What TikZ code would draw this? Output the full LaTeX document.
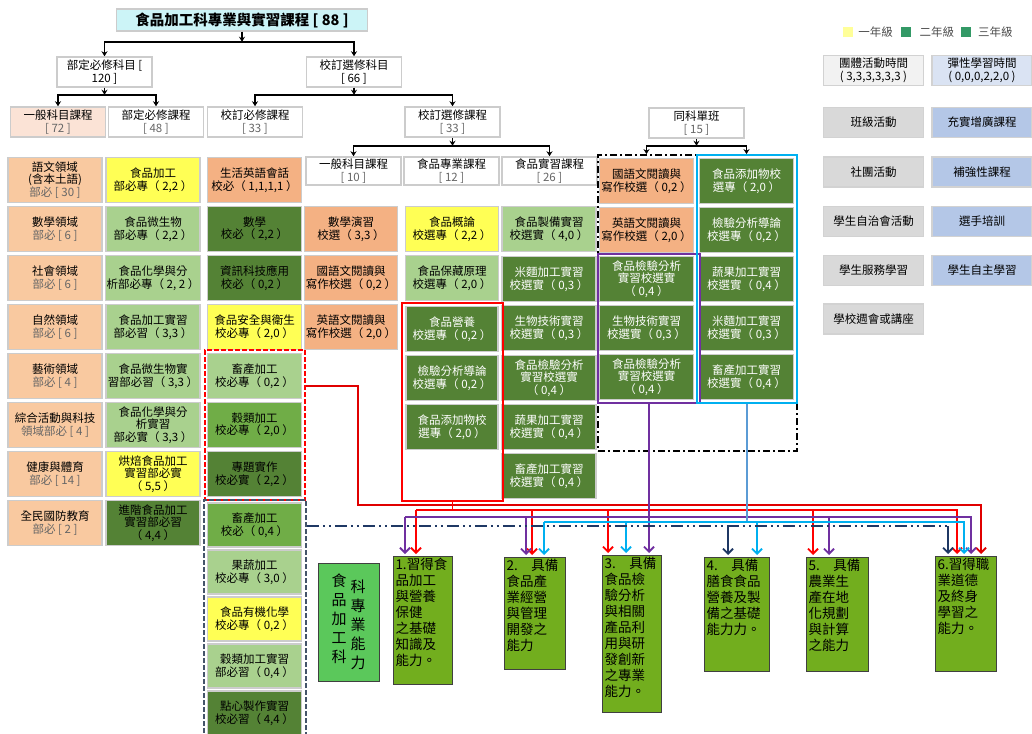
\documentclass[tikz,border=0pt]{standalone}
\usepackage{fontspec}
\setmainfont{Noto Sans CJK TC}
\usepackage{tikz}
\usetikzlibrary{arrows.meta}
\usetikzlibrary{positioning}
\definecolor{rootc}{HTML}{CCF4F7}
\definecolor{genc}{HTML}{FBE3D6}
\definecolor{peachc}{HTML}{F9C9A0}
\definecolor{orangec}{HTML}{F4B183}
\definecolor{yellowc}{HTML}{FFFF55}
\definecolor{lightg}{HTML}{A9D18E}
\definecolor{midg}{HTML}{70AD47}
\definecolor{darkg}{HTML}{548235}
\definecolor{goalc}{HTML}{72AE1E}
\definecolor{labelc}{HTML}{5BC85B}
\definecolor{sidel}{HTML}{F2F2F2}
\definecolor{sideg}{HTML}{D9D9D9}
\definecolor{bluel}{HTML}{DAE3F3}
\definecolor{blueb}{HTML}{B4C7E7}
\definecolor{leg1}{HTML}{FFFF99}
\definecolor{leg2}{HTML}{339966}
\definecolor{redc}{HTML}{FF0000}
\definecolor{redd}{HTML}{E00000}
\definecolor{purp}{HTML}{7030A0}
\definecolor{cyanc}{HTML}{00B0F0}
\definecolor{bluec}{HTML}{5B9BD5}
\definecolor{navyc}{HTML}{1F3864}
\definecolor{navyg}{HTML}{44546A}
\tikzstyle{cell}=[rectangle,draw=gray!40,line width=1.5pt,inner sep=1pt,minimum width=94pt,minimum height=45pt,align=center,font=\fontsize{11.5}{12.5}\selectfont]
\tikzstyle{peachbox}=[cell,fill=peachc]
\tikzstyle{orangebox}=[cell,fill=orangec]
\tikzstyle{yellowbox}=[cell,fill=yellowc]
\tikzstyle{lightbox}=[cell,fill=lightg]
\tikzstyle{midbox}=[cell,fill=midg]
\tikzstyle{darkbox}=[cell,fill=darkg]
\tikzstyle{darkwbox}=[cell,fill=darkg,text=white]
\tikzstyle{hdbox}=[cell,fill=white,minimum width=95pt,minimum height=30pt]
\tikzstyle{side}=[rectangle,draw=gray!35,line width=1.5pt,inner sep=1pt,minimum width=100pt,minimum height=30pt,align=center,font=\fontsize{11.5}{12.5}\selectfont]
\tikzstyle{goal}=[rectangle,draw=black!75,line width=1pt,fill=goalc,anchor=north west,inner sep=2pt,font=\fontsize{13.5}{16}\selectfont]
\tikzstyle{grp}=[rectangle,inner sep=0pt,line width=1.8pt]
\tikzstyle{tree}=[line width=1.8pt,black]
\tikzstyle{link}=[line width=1.8pt]
\tikzstyle{barb}=[-{Straight Barb[length=5pt,width=10pt]},shorten >=2pt]
\tikzstyle{legsq}=[rectangle,minimum size=10pt,inner sep=0pt]
\tikzstyle{legtxt}=[inner sep=1pt,text=black!70,font=\fontsize{11.5}{13}\selectfont]

\begin{document}
\begin{tikzpicture}[x=1pt,y=-1pt,>={Stealth[length=5pt,width=6pt]}]
  \useasboundingbox (0,0) rectangle (1032,733);

  % upper tree
  \node[hdbox,fill=rootc,minimum width=251pt,minimum height=22pt,font=\fontsize{14.5}{16}\selectfont\bfseries] at (242,20) (root) {食品加工科專業與實習課程 [ 88 ]};
  \node[hdbox] at (104.5,72) (bd) {部定必修科目 [\\120 ]};
  \node[hdbox] at (354,72) (xs) {校訂選修科目\\{}[ 66 ]};
  \node[hdbox,fill=genc] at (58,122) (gen) {一般科目課程\\{\color{black!60}[ 72 ]}};
  \node[hdbox] at (156,122) (bdk) {部定必修課程\\{\color{black!60}[ 48 ]}};
  \node[hdbox] at (255,122) (xbk) {校訂必修課程\\{\color{black!60}[ 33 ]}};
  \node[hdbox] at (452.5,122) (xsk) {校訂選修課程\\{\color{black!60}[ 33 ]}};
  \node[hdbox,minimum height=28pt] at (353.5,171) (xgen) {一般科目課程\\{\color{black!60}[ 10 ]}};
  \node[hdbox,minimum height=28pt] at (451.5,171) (xpro) {食品專業課程\\{\color{black!60}[ 12 ]}};
  \node[hdbox,minimum height=28pt] at (549.5,171) (xprac) {食品實習課程\\{\color{black!60}[ 26 ]}};
  \node[hdbox] at (696.5,123) (same) {同科單班\\{\color{black!60}[ 15 ]}};

  % column 1
  \node[peachbox] at (55,180) (a1) {語文領域\\(含本土語)\\{\color{black!60}部必 [ 30 ]}};
  \node[peachbox] at (55,229) (a2) {數學領域\\{\color{black!60}部必 [ 6 ]}};
  \node[peachbox] at (55,278) (a3) {社會領域\\{\color{black!60}部必 [ 6 ]}};
  \node[peachbox] at (55,327) (a4) {自然領域\\{\color{black!60}部必 [ 6 ]}};
  \node[peachbox] at (55,376) (a5) {藝術領域\\{\color{black!60}部必 [ 4 ]}};
  \node[peachbox] at (55,425) (a6) {綜合活動與科技\\{\color{black!60}領域部必 [ 4 ]}};
  \node[peachbox] at (55,474) (a7) {健康與體育\\{\color{black!60}部必 [ 14 ]}};
  \node[peachbox] at (55,523) (a8) {全民國防教育\\{\color{black!60}部必 [ 2 ]}};

  % column 2
  \node[yellowbox] at (153,180) (b1) {食品加工\\部必專（ 2,2 ）};
  \node[lightbox] at (153,229) (b2) {食品微生物\\部必專（ 2,2 ）};
  \node[lightbox] at (153,278) (b3) {食品化學與分\\析部必專（ 2, 2 ）};
  \node[lightbox] at (153,327) (b4) {食品加工實習\\部必習（ 3,3 ）};
  \node[lightbox] at (153,376) (b5) {食品微生物實\\習部必習（ 3,3 ）};
  \node[lightbox] at (153,425) (b6) {食品化學與分\\析實習\\部必實（ 3,3 ）};
  \node[yellowbox] at (153,474) (b7) {烘焙食品加工\\實習部必實\\（ 5,5 ）};
  \node[darkbox] at (153,523) (b8) {進階食品加工\\實習部必習\\（ 4,4 ）};

  % column 3
  \node[orangebox] at (254.5,180) (c1) {生活英語會話\\校必（ 1,1,1,1 ）};
  \node[darkbox] at (254.5,229) (c2) {數學\\校必（ 2,2 ）};
  \node[darkbox] at (254.5,278) (c3) {資訊科技應用\\校必（ 0,2 ）};
  \node[yellowbox] at (254.5,327) (c4) {食品安全與衛生\\校必專（ 2,0 ）};
  \node[lightbox] at (254.5,376) (c5) {畜產加工\\校必專（ 0,2 ）};
  \node[midbox] at (254.5,425) (c6) {穀類加工\\校必專（ 2,0 ）};
  \node[darkbox] at (254.5,474) (c7) {專題實作\\校必實（ 2,2 ）};
  \node[midbox,minimum height=44pt] at (254.5,525) (c8) {畜產加工\\校必（ 0,4 ）};
  \node[lightbox,minimum height=44pt] at (254.5,572) (c9) {果蔬加工\\校必專（ 3,0 ）};
  \node[yellowbox,minimum height=44pt] at (254.5,619) (c10) {食品有機化學\\校必專（ 0,2 ）};
  \node[lightbox,minimum height=44pt] at (254.5,666) (c11) {穀類加工實習\\部必習（ 0,4 ）};
  \node[darkbox,minimum height=44pt] at (254.5,713) (c12) {點心製作實習\\校必習（ 4,4 ）};

  % column 4
  \node[orangebox,minimum width=93pt] at (351,229) (d2) {數學演習\\校選（ 3,3 ）};
  \node[orangebox,minimum width=93pt] at (351,278) (d3) {國語文閱讀與\\寫作校選（ 0,2 ）};
  \node[orangebox,minimum width=93pt] at (351,327) (d4) {英語文閱讀與\\寫作校選（ 2,0 ）};

  % column 5
  \node[yellowbox,minimum width=93pt] at (452,229) (e1) {食品概論\\校選專（ 2,2 ）};
  \node[lightbox,minimum width=93pt] at (452,278) (e2) {食品保藏原理\\校選專（ 2,0 ）};
  \node[darkwbox,minimum width=92pt] at (452,329) (e3) {食品營養\\校選專（ 0,2 ）};
  \node[darkwbox,minimum width=92pt] at (452,378) (e4) {檢驗分析導論\\校選專（ 0,2 ）};
  \node[darkwbox,minimum width=92pt] at (452,427) (e5) {食品添加物校\\選專（ 2,0 ）};

  % column 6
  \node[lightbox] at (549,229) (h1) {食品製備實習\\校選實（ 4,0 ）};
  \node[darkwbox] at (549,279) (h2) {米麵加工實習\\校選實（ 0,3 ）};
  \node[darkwbox] at (549,328) (h3) {生物技術實習\\校選實（ 0,3 ）};
  \node[darkwbox] at (549,378) (h4) {食品檢驗分析\\實習校選實\\（ 0,4 ）};
  \node[darkwbox] at (549,427) (h5) {蔬果加工實習\\校選實（ 0,4 ）};
  \node[darkwbox] at (549,476) (h6) {畜產加工實習\\校選實（ 0,4 ）};

  % same-class grid
  \node[orangebox] at (646.5,181) (m11) {國語文閱讀與\\寫作校選（ 0,2 ）};
  \node[darkwbox] at (746.5,181) (m12) {食品添加物校\\選專（ 2,0 ）};
  \node[orangebox] at (646.5,230) (m21) {英語文閱讀與\\寫作校選（ 2,0 ）};
  \node[darkwbox] at (746.5,230) (m22) {檢驗分析導論\\校選專（ 0,2 ）};
  \node[darkwbox] at (646.5,279) (m31) {食品檢驗分析\\實習校選實\\（ 0,4 ）};
  \node[darkwbox] at (746.5,279) (m32) {蔬果加工實習\\校選實（ 0,4 ）};
  \node[darkwbox] at (646.5,328) (m41) {生物技術實習\\校選實（ 0,3 ）};
  \node[darkwbox] at (746.5,328) (m42) {米麵加工實習\\校選實（ 0,3 ）};
  \node[darkwbox] at (646.5,377) (m51) {食品檢驗分析\\實習校選實\\（ 0,4 ）};
  \node[darkwbox] at (746.5,377) (m52) {畜產加工實習\\校選實（ 0,4 ）};

  % groups
  \node[grp,draw=redc,dash pattern=on 5pt off 2pt,minimum width=100pt,minimum height=150pt] at (255,425) (grpA) {};
  \node[grp,draw=navyg,dash pattern=on 5pt off 2pt,minimum width=102pt,minimum height=240pt] at (255,620) (grpN) {};
  \node[grp,draw=redc,minimum width=101pt,minimum height=198pt] at (452.5,402) (grpB) {};
  \node[grp,draw=black,dash pattern=on 7pt off 3pt on 2pt off 3pt,minimum width=199pt,minimum height=296pt] at (697.5,303) (grpC) {};
  \node[grp,draw=purp,line width=1.5pt,minimum width=102pt,minimum height=149pt] at (649,328.5) (grpP) {};
  \node[grp,draw=cyanc,line width=1.5pt,minimum width=100pt,minimum height=248pt] at (747,279) (grpQ) {};

  \draw[tree,->] (root.south) -- ++(0,10) coordinate (j0);
  \draw[tree,->] (j0) -| (bd.north);
  \draw[tree,->] (j0) -| (xs.north);
  \draw[tree,->] (bd.south) -- ++(0,7) coordinate (j1);
  \draw[tree,->] (j1) -| (gen.north);
  \draw[tree,->] (j1) -| (bdk.north);
  \draw[tree,->] (xs.south) -- ++(0,7) coordinate (j2);
  \draw[tree,->] (j2) -| (xbk.north);
  \draw[tree,->] (j2) -| (xsk.north);
  \draw[tree,->] (xsk.south) -- ++(0,8) coordinate (j3);
  \draw[tree,->] (j3) -| (xgen.north);
  \draw[tree,->] (j3) -| (xprac.north);
  \draw[tree,->] (same.south) -- ++(0,7) coordinate (j4);
  \draw[tree,->] (j4) -| (grpC.north -| m11);
  \draw[tree,->] (j4) -| (grpC.north -| m12);

  % legend
  \node[legsq,fill=leg1] at (848,32) (l1) {};
  \node[legtxt,right=4pt of l1] (l1t) {一年級};
  \node[legsq,fill=leg2,right=7pt of l1t] (l2) {};
  \node[legtxt,right=7pt of l2] (l2t) {二年級};
  \node[legsq,fill=leg2,right=5pt of l2t] (l3) {};
  \node[legtxt,right=6pt of l3] (l3t) {三年級};

  % activity and flexible time
  \node[side,fill=sidel] at (873.5,70.5) (sl0) {團體活動時間\\( 3,3,3,3,3,3 )};
  \node[side,fill=bluel] at (982,70.5) (sr0) {彈性學習時間\\( 0,0,0,2,2,0 )};
  \node[side,fill=sideg] at (873.5,122.5) (sl1) {班級活動};
  \node[side,fill=blueb] at (982,122.5) (sr1) {充實增廣課程};
  \node[side,fill=sideg] at (873.5,172) (sl2) {社團活動};
  \node[side,fill=blueb] at (982,172) (sr2) {補強性課程};
  \node[side,fill=sideg] at (873.5,221.5) (sl3) {學生自治會活動};
  \node[side,fill=blueb] at (982,221.5) (sr3) {選手培訓};
  \node[side,fill=sideg] at (873.5,270.5) (sl4) {學生服務學習};
  \node[side,fill=blueb] at (982,270.5) (sr4) {學生自主學習};
  \node[side,fill=sideg] at (873.5,319) (sl5) {學校週會或講座};

  % abilities
  \node[rectangle,draw=black!75,line width=1pt,fill=labelc,minimum width=61pt,minimum height=118pt,font=\fontsize{15}{19}\selectfont] at (348.5,622) (gl) {\parbox{16pt}{\centering 食\\品\\加\\工\\科}\hspace{3pt}\raisebox{-6pt}{\parbox{16pt}{\centering 科\\專\\業\\能\\力}}};
  \node[goal] at (393,556) (g1) {\parbox[t][124pt][t]{55pt}{1.習得食\\品加工\\與營養\\保健\\之基礎\\知識及\\能力。}};
  \node[goal] at (504,557) (g2) {\parbox[t][108pt][t]{57pt}{2.　具備\\食品產\\業經營\\與管理\\開發之\\能力}};
  \node[goal] at (602,555) (g3) {\parbox[t][153pt][t]{55pt}{3.　具備\\食品檢\\驗分析\\與相關\\產品利\\用與研\\發創新\\之專業\\能力。}};
  \node[goal] at (704,557) (g4) {\parbox[t][110pt][t]{61pt}{4.　具備\\膳食食品\\營養及製\\備之基礎\\能力力。}};
  \node[goal] at (806,557) (g5) {\parbox[t][110pt][t]{58pt}{5.　具備\\農業生\\產在地\\化規劃\\與計算\\之能力}};
  \node[goal] at (935,556) (g6) {\parbox[t][111pt][t]{57pt}{6.習得職\\業道德\\及終身\\學習之\\能力。}};

  % links to abilities
  \coordinate (rd0) at (358,505);
  \coordinate (rd6) at (981,505);
  \coordinate (rd1) at (416,510);
  \coordinate (rd2) at (532,510);
  \coordinate (rd3) at (608,510);
  \coordinate (rd5) at (813,510);
  \coordinate (rd7) at (957,510);
  \draw[link,redd,barb] ([yshift=39pt]grpA.east) -| (rd0) -- (rd6) -- (rd6 |- g6.north);
  \draw[link,redc] (grpB.south) -- (grpB.south |- rd1);
  \draw[link,redc,barb] (rd1) -- (rd7) -- (rd7 |- g6.north);
  \draw[link,redc,barb] (rd1) -- (rd1 |- g1.north);
  \draw[link,redc,barb] (rd2) -- (rd2 |- g2.north);
  \draw[link,redc,barb] (rd3) -- (rd3 |- g3.north);
  \draw[link,redc,barb] (rd5) -- (rd5 |- g5.north);

  \coordinate (pu1) at (405,517);
  \coordinate (pu2) at (526,517);
  \coordinate (pu5) at (829,517);
  \coordinate (pu6) at (971,517);
  \draw[link,purp,barb] (grpP.south) -- (grpP.south |- g3.north);
  \draw[link,purp,barb] (pu1) -- (pu6) -- (pu6 |- g6.north);
  \draw[link,purp,barb] (pu1) -- (pu1 |- g1.north);
  \draw[link,purp,barb] (pu2) -- (pu2 |- g2.north);
  \draw[link,purp,barb] (pu5) -- (pu5 |- g5.north);

  \coordinate (cy2) at (544,522);
  \coordinate (cy3) at (626,522);
  \coordinate (cy4) at (757,522);
  \coordinate (cy6) at (964,522);
  \draw[link,bluec] (grpQ.south) -- (grpQ.south |- cy2);
  \draw[link,cyanc,barb] (cy2) -- (cy6) -- (cy6 |- g6.north);
  \draw[link,cyanc,barb] (cy2) -- (cy2 |- g2.north);
  \draw[link,cyanc,barb] (cy3) -- (cy3 |- g3.north);
  \draw[link,cyanc,barb] (cy4) -- (cy4 |- g4.north);

  \coordinate (nv4) at (728,526);
  \coordinate (nv6) at (948,526);
  \draw[link,navyc,dash pattern=on 12pt off 4pt on 2pt off 4pt on 2pt off 4pt] (grpN.east |- nv6) -- (nv6);
  \draw[link,navyc,barb] (nv4) -- (nv4 |- g4.north);
  \draw[link,navyc,barb] (nv6) -- (nv6 |- g6.north);
\end{tikzpicture}
\end{document}
